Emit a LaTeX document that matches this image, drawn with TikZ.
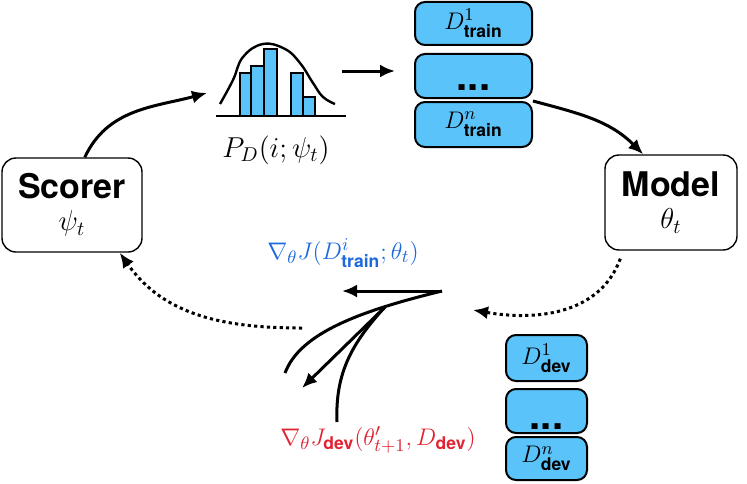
\documentclass[tikz,border=0pt]{standalone}
\usepackage{amsmath}
\usepackage{fontspec}
\setsansfont{TeX Gyre Heros}
\usetikzlibrary{arrows.meta}
\definecolor{setblue}{RGB}{90,195,250}
\definecolor{gradblue}{RGB}{30,105,220}
\definecolor{gradred}{RGB}{225,35,50}
\newcommand{\trnsub}{\text{\sffamily\bfseries train}}
\newcommand{\devsub}{\text{\sffamily\bfseries dev}}
% dots sitting low in the box
\newcommand{\lowdots}[1]{\raisebox{#1}[0pt][0pt]{...}}
\tikzset{>={Latex[length=7.5pt,width=6.5pt]}}
\tikzset{
  agent/.style={draw, line width=0.7pt, rounded corners=7pt, align=center,
    minimum height=47pt},
  setbox/.style={draw, fill=setblue, line width=1pt, rounded corners=5pt,
    inner sep=1pt, font=\fontsize{12.5}{14}\selectfont},
  dotsbox/.style={setbox, font=\fontsize{20}{20}\selectfont\sffamily\bfseries},
  flow/.style={->, line width=1.5pt},
  feedback/.style={->, line width=1.5pt, dash pattern=on 1.6pt off 1.6pt},
}

\begin{document}
\begin{tikzpicture}[x=0.5pt, y=0.5pt]
  \useasboundingbox (0,0) rectangle (747,483);
  % scorer and model
  \node[agent, minimum width=70pt] (scorer) at (72,278)
    {{\fontsize{17}{20}\selectfont\sffamily\bfseries Scorer}\\[4pt]
     {\fontsize{14}{16}\selectfont$\psi_t$}};
  \node[agent, minimum width=66pt, minimum height=47.5pt] (model) at (671,280.5)
    {{\fontsize{17}{20}\selectfont\sffamily\bfseries Model}\\[4pt]
     {\fontsize{14}{16}\selectfont$\theta_t$}};

  % sampling distribution
  \draw[line width=1.2pt] (216,367) -- (346,367);
  \foreach \xa/\xb/\ytop in {240/251/410, 251/264/417, 264/277/434,
                             291/303/410, 303/315/386}
    \draw[fill=setblue, line width=0.6pt] (\xa,367) rectangle (\xb,\ytop);
  \draw[line width=1.2pt] plot[smooth, tension=0.7] coordinates
    {(220,379) (233,403) (243,426) (263,439) (285,434) (300,420)
     (313,400) (323,386) (335,379)};
  \node[font=\fontsize{14}{16}\selectfont] (pd) at (276,333) {$P_D(i;\psi_t)$};
  \coordinate (histin) at (207,390);
  \coordinate (histout) at (342,412);
  \coordinate (trainin) at (395,412);

  % training sets
  \node[setbox, minimum width=58.5pt, minimum height=21.5pt] (train1) at (473.5,459.5) {$D^1_{\trnsub}$};
  \node[dotsbox, minimum width=58.5pt, minimum height=22pt] (train2) at (473.5,407) {\lowdots{-7.4pt}};
  \node[setbox, minimum width=58.5pt, minimum height=22.5pt] (train3) at (473.5,358.5) {$D^n_{\trnsub}$};

  % dev sets
  \node[setbox, minimum width=40.5pt, minimum height=23pt] (dev1) at (546.5,125) {$D^1_{\devsub}$};
  \node[dotsbox, minimum width=40.5pt, minimum height=22pt] (dev2) at (546.5,72) {\lowdots{-9pt}};
  \node[setbox, minimum width=40.5pt, minimum height=21.5pt] (dev3) at (546.5,24.5) {$D^n_{\devsub}$};

  % gradients
  \coordinate (gradin) at (473,173);
  \coordinate (gradout) at (302,155);
  \coordinate (o1) at (442,192);
  \coordinate (o2) at (385,176);
  \coordinate (gtrain) at (342,192);
  \coordinate (gdev) at (302,95);
  \draw[flow] (o1) -- (gtrain);
  \draw[line width=1.5pt] (o1) .. controls (360,172) and (300,150) .. (285,110);
  \draw[line width=1.5pt] (o2) .. controls (352,140) and (335,110) .. (337,61);
  \draw[flow] (o2) -- (gdev);
  \node[text=gradblue, font=\fontsize{12.5}{14}\selectfont] (gtrainlbl) at (343,230)
    {$\nabla_\theta J(D^i_{\trnsub};\theta_t)$};
  \node[text=gradred, font=\fontsize{12.5}{14}\selectfont] (gdevlbl) at (378,43)
    {$\nabla_\theta J_{\devsub}(\theta'_{t+1},D_{\devsub})$};

  % loop
  \draw[flow] (scorer.75) to[out=65, in=195] (histin);
  \draw[flow] (histout) -- (trainin);
  \draw[flow] (train3.north east) to[out=-15, in=135] (model.120);
  \draw[feedback] ([xshift=8pt, yshift=-4pt]model.south west) to[out=250, in=350] (gradin);
  \draw[feedback] (gradout) to[out=180, in=-55] (scorer.-45);
\end{tikzpicture}
\end{document}
